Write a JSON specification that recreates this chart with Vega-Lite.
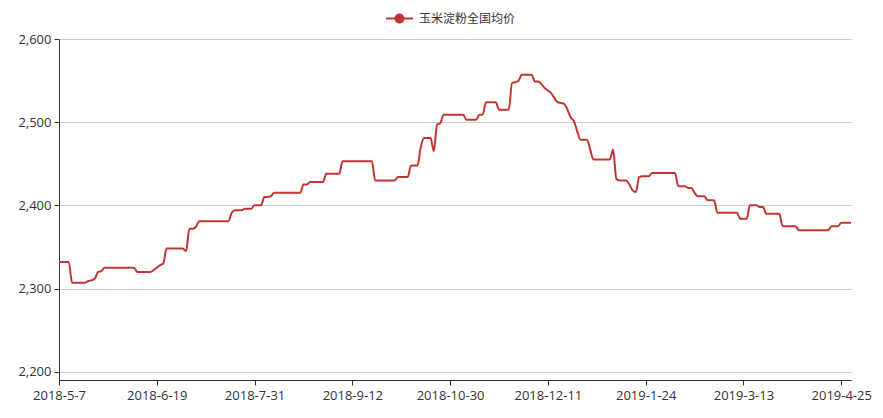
{
  "$schema": "https://vega.github.io/schema/vega-lite/v6.json",
  "width": 792,
  "height": 341,
  "autosize": {"type": "none"},
  "padding": {"left": 59, "top": 39, "right": 32, "bottom": 38},
  "background": "#ffffff",
  "config": {"view": {"stroke": null}},
  "data": {"values": [
    {"date":"2018-5-7","price":2332},{"date":"2018-5-8","price":2332},{"date":"2018-5-9","price":2332},{"date":"2018-5-10","price":2332},{"date":"2018-5-11","price":2307},
    {"date":"2018-5-14","price":2307},{"date":"2018-5-15","price":2307},{"date":"2018-5-16","price":2307},{"date":"2018-5-17","price":2307},{"date":"2018-5-18","price":2309},
    {"date":"2018-5-21","price":2310},{"date":"2018-5-22","price":2312},{"date":"2018-5-23","price":2320},{"date":"2018-5-24","price":2321},{"date":"2018-5-25","price":2325},
    {"date":"2018-5-28","price":2325},{"date":"2018-5-29","price":2325},{"date":"2018-5-30","price":2325},{"date":"2018-5-31","price":2325},{"date":"2018-6-1","price":2325},
    {"date":"2018-6-4","price":2325},{"date":"2018-6-5","price":2325},{"date":"2018-6-6","price":2325},{"date":"2018-6-7","price":2325},{"date":"2018-6-8","price":2320},
    {"date":"2018-6-11","price":2320},{"date":"2018-6-12","price":2320},{"date":"2018-6-13","price":2320},{"date":"2018-6-14","price":2320},{"date":"2018-6-15","price":2322},
    {"date":"2018-6-19","price":2325},{"date":"2018-6-20","price":2328},{"date":"2018-6-21","price":2330},{"date":"2018-6-22","price":2348},
    {"date":"2018-6-25","price":2348},{"date":"2018-6-26","price":2348},{"date":"2018-6-27","price":2348},{"date":"2018-6-28","price":2348},{"date":"2018-6-29","price":2348},
    {"date":"2018-7-2","price":2345},{"date":"2018-7-3","price":2372},{"date":"2018-7-4","price":2372},{"date":"2018-7-5","price":2374},{"date":"2018-7-6","price":2381},
    {"date":"2018-7-9","price":2381},{"date":"2018-7-10","price":2381},{"date":"2018-7-11","price":2381},{"date":"2018-7-12","price":2381},{"date":"2018-7-13","price":2381},
    {"date":"2018-7-16","price":2381},{"date":"2018-7-17","price":2381},{"date":"2018-7-18","price":2381},{"date":"2018-7-19","price":2381},{"date":"2018-7-20","price":2391},
    {"date":"2018-7-23","price":2394},{"date":"2018-7-24","price":2394},{"date":"2018-7-25","price":2394},{"date":"2018-7-26","price":2396},{"date":"2018-7-27","price":2396},
    {"date":"2018-7-30","price":2396},{"date":"2018-7-31","price":2400},{"date":"2018-8-1","price":2400},{"date":"2018-8-2","price":2400},{"date":"2018-8-3","price":2410},
    {"date":"2018-8-6","price":2410},{"date":"2018-8-7","price":2411},{"date":"2018-8-8","price":2415},{"date":"2018-8-9","price":2415},{"date":"2018-8-10","price":2415},
    {"date":"2018-8-13","price":2415},{"date":"2018-8-14","price":2415},{"date":"2018-8-15","price":2415},{"date":"2018-8-16","price":2415},{"date":"2018-8-17","price":2415},
    {"date":"2018-8-20","price":2415},{"date":"2018-8-21","price":2425},{"date":"2018-8-22","price":2425},{"date":"2018-8-23","price":2428},{"date":"2018-8-24","price":2428},
    {"date":"2018-8-27","price":2428},{"date":"2018-8-28","price":2428},{"date":"2018-8-29","price":2428},{"date":"2018-8-30","price":2438},{"date":"2018-8-31","price":2438},
    {"date":"2018-9-3","price":2438},{"date":"2018-9-4","price":2438},{"date":"2018-9-5","price":2438},{"date":"2018-9-6","price":2453},{"date":"2018-9-7","price":2453},
    {"date":"2018-9-11","price":2453},{"date":"2018-9-12","price":2453},{"date":"2018-9-13","price":2453},{"date":"2018-9-14","price":2453},
    {"date":"2018-9-17","price":2453},{"date":"2018-9-18","price":2453},{"date":"2018-9-19","price":2453},{"date":"2018-9-20","price":2453},{"date":"2018-9-21","price":2430},
    {"date":"2018-9-25","price":2430},{"date":"2018-9-26","price":2430},{"date":"2018-9-27","price":2430},{"date":"2018-9-28","price":2430},{"date":"2018-9-29","price":2430},
    {"date":"2018-9-30","price":2430},{"date":"2018-10-8","price":2434},{"date":"2018-10-9","price":2434},{"date":"2018-10-10","price":2434},{"date":"2018-10-11","price":2434},
    {"date":"2018-10-12","price":2448},{"date":"2018-10-15","price":2448},{"date":"2018-10-16","price":2448},{"date":"2018-10-17","price":2470},{"date":"2018-10-18","price":2481},
    {"date":"2018-10-19","price":2481},{"date":"2018-10-22","price":2481},{"date":"2018-10-23","price":2465},{"date":"2018-10-24","price":2497},{"date":"2018-10-25","price":2499},
    {"date":"2018-10-26","price":2509},{"date":"2018-10-29","price":2509},{"date":"2018-10-30","price":2509},{"date":"2018-10-31","price":2509},{"date":"2018-11-1","price":2509},
    {"date":"2018-11-2","price":2509},{"date":"2018-11-5","price":2509},{"date":"2018-11-6","price":2503},{"date":"2018-11-7","price":2503},{"date":"2018-11-8","price":2503},
    {"date":"2018-11-9","price":2503},{"date":"2018-11-12","price":2509},{"date":"2018-11-13","price":2509},{"date":"2018-11-14","price":2524},{"date":"2018-11-15","price":2524},
    {"date":"2018-11-16","price":2524},{"date":"2018-11-19","price":2524},{"date":"2018-11-20","price":2515},{"date":"2018-11-21","price":2515},{"date":"2018-11-22","price":2515},
    {"date":"2018-11-23","price":2515},{"date":"2018-11-26","price":2547},{"date":"2018-11-27","price":2548},{"date":"2018-11-28","price":2550},{"date":"2018-11-29","price":2557},
    {"date":"2018-11-30","price":2557},{"date":"2018-12-3","price":2557},{"date":"2018-12-4","price":2557},{"date":"2018-12-5","price":2549},{"date":"2018-12-6","price":2549},
    {"date":"2018-12-7","price":2546},{"date":"2018-12-10","price":2541},{"date":"2018-12-11","price":2538},{"date":"2018-12-12","price":2535},{"date":"2018-12-13","price":2529},
    {"date":"2018-12-14","price":2524},{"date":"2018-12-17","price":2523},{"date":"2018-12-18","price":2522},{"date":"2018-12-19","price":2515},{"date":"2018-12-20","price":2506},
    {"date":"2018-12-21","price":2501},{"date":"2018-12-24","price":2489},{"date":"2018-12-25","price":2479},{"date":"2018-12-26","price":2479},{"date":"2018-12-27","price":2479},
    {"date":"2018-12-28","price":2467},{"date":"2019-1-2","price":2455},{"date":"2019-1-3","price":2455},{"date":"2019-1-4","price":2455},{"date":"2019-1-7","price":2455},
    {"date":"2019-1-8","price":2455},{"date":"2019-1-9","price":2455},{"date":"2019-1-10","price":2467},{"date":"2019-1-11","price":2432},{"date":"2019-1-14","price":2430},
    {"date":"2019-1-15","price":2430},{"date":"2019-1-16","price":2430},{"date":"2019-1-17","price":2425},{"date":"2019-1-18","price":2418},{"date":"2019-1-21","price":2416},
    {"date":"2019-1-22","price":2434},{"date":"2019-1-23","price":2435},{"date":"2019-1-24","price":2435},{"date":"2019-1-25","price":2435},{"date":"2019-1-28","price":2439},
    {"date":"2019-1-29","price":2439},{"date":"2019-1-30","price":2439},{"date":"2019-1-31","price":2439},{"date":"2019-2-1","price":2439},{"date":"2019-2-2","price":2439},
    {"date":"2019-2-11","price":2439},{"date":"2019-2-12","price":2439},{"date":"2019-2-13","price":2423},{"date":"2019-2-14","price":2423},{"date":"2019-2-15","price":2423},
    {"date":"2019-2-18","price":2421},{"date":"2019-2-19","price":2421},{"date":"2019-2-20","price":2415},{"date":"2019-2-21","price":2411},{"date":"2019-2-22","price":2411},
    {"date":"2019-2-25","price":2411},{"date":"2019-2-26","price":2406},{"date":"2019-2-27","price":2406},{"date":"2019-2-28","price":2406},{"date":"2019-3-1","price":2391},
    {"date":"2019-3-4","price":2391},{"date":"2019-3-5","price":2391},{"date":"2019-3-6","price":2391},{"date":"2019-3-7","price":2391},{"date":"2019-3-8","price":2391},
    {"date":"2019-3-11","price":2391},{"date":"2019-3-12","price":2384},{"date":"2019-3-13","price":2384},{"date":"2019-3-14","price":2384},{"date":"2019-3-15","price":2400},
    {"date":"2019-3-18","price":2400},{"date":"2019-3-19","price":2400},{"date":"2019-3-20","price":2398},{"date":"2019-3-21","price":2398},{"date":"2019-3-22","price":2390},
    {"date":"2019-3-25","price":2390},{"date":"2019-3-26","price":2390},{"date":"2019-3-27","price":2390},{"date":"2019-3-28","price":2390},{"date":"2019-3-29","price":2375},
    {"date":"2019-4-1","price":2375},{"date":"2019-4-2","price":2375},{"date":"2019-4-3","price":2375},{"date":"2019-4-4","price":2375},{"date":"2019-4-8","price":2370},
    {"date":"2019-4-9","price":2370},{"date":"2019-4-10","price":2370},{"date":"2019-4-11","price":2370},{"date":"2019-4-12","price":2370},{"date":"2019-4-15","price":2370},
    {"date":"2019-4-16","price":2370},{"date":"2019-4-17","price":2370},{"date":"2019-4-18","price":2370},{"date":"2019-4-19","price":2370},{"date":"2019-4-22","price":2375},
    {"date":"2019-4-23","price":2375},{"date":"2019-4-24","price":2375},{"date":"2019-4-25","price":2379},{"date":"2019-4-26","price":2379},{"date":"2019-4-29","price":2379},
    {"date":"2019-4-30","price":2379}
  ]},
  "mark": {"type": "line", "strokeWidth": 2, "interpolate": "monotone"},
  "encoding": {
    "x": {
      "field": "date", "type": "ordinal", "sort": null,
      "scale": {"type": "point", "padding": 0},
      "axis": {
        "title": null,
        "values": ["2018-5-7","2018-6-19","2018-7-31","2018-9-12","2018-10-30","2018-12-11","2019-1-24","2019-3-13","2019-4-25"],
        "labelAngle": 0, "grid": false,
        "domainColor": "#333333", "tickColor": "#333333", "tickSize": 5,
        "labelColor": "#333333", "labelFont": "Open Sans", "labelFontSize": 13, "labelPadding": 4,
        "labelOverlap": false
      }
    },
    "y": {
      "field": "price", "type": "quantitative",
      "scale": {"domain": [2190, 2600], "nice": false, "zero": false},
      "axis": {
        "title": null,
        "values": [2200, 2300, 2400, 2500, 2600],
        "format": ",.0f",
        "grid": true, "gridColor": "#cccccc",
        "domainColor": "#333333", "tickColor": "#333333", "tickSize": 5,
        "labelColor": "#333333", "labelFont": "Open Sans", "labelFontSize": 13, "labelPadding": 3
      }
    },
    "color": {
      "datum": "玉米淀粉全国均价",
      "scale": {"range": ["#c23531"]},
      "legend": {
        "title": null,
        "orient": "none",
        "legendX": 327,
        "legendY": -34,
        "padding": 0,
        "symbolType": "M-1,-0.074H1V0.074H-1Z M0.37,0A0.37,0.37,0,1,1,-0.37,0A0.37,0.37,0,1,1,0.37,0Z",
        "symbolSize": 729,
        "symbolStrokeWidth": 0,
        "symbolFillColor": "#c23531",
        "labelFont": "Noto Sans CJK SC",
        "labelFontSize": 12,
        "labelColor": "#333333",
        "labelOffset": 6
      }
    }
  }
}
